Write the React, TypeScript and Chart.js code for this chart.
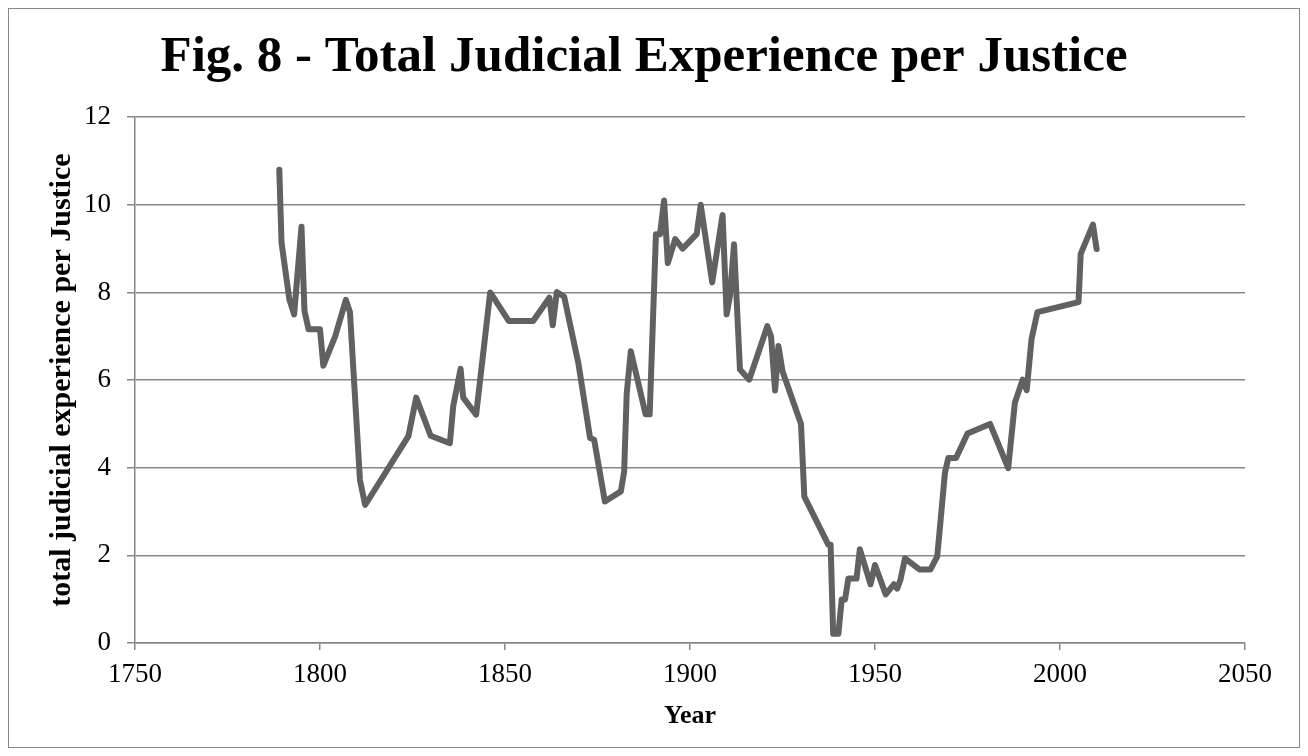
import React, { useEffect, useRef } from "react";
import { Chart, registerables } from "chart.js";

Chart.register(...registerables);

const years: number[] = [
  1789.0, 1789.6, 1791.7, 1793.0, 1795.0, 1795.8, 1796.9, 1800.0, 1800.9, 1804.1,
  1807.0, 1808.1, 1810.8, 1812.2, 1823.9, 1826.0, 1829.9, 1835.1, 1836.0, 1838.0,
  1838.7, 1842.2, 1846.0, 1851.0, 1857.6, 1862.0, 1862.9, 1864.0, 1866.0, 1869.8,
  1873.0, 1874.1, 1877.0, 1881.3, 1882.2, 1882.9, 1884.0, 1888.0, 1889.1, 1890.8,
  1891.9, 1893.0, 1894.0, 1896.0, 1898.0, 1901.8, 1902.9, 1906.0, 1908.8, 1909.9,
  1910.8, 1911.9, 1913.5, 1916.0, 1920.9, 1921.9, 1923.0, 1923.9, 1925.0, 1930.0,
  1930.9, 1937.4, 1938.0, 1938.7, 1940.1, 1941.0, 1941.9, 1942.8, 1945.0, 1945.9,
  1948.8, 1950.0, 1952.9, 1955.1, 1956.0, 1956.9, 1958.1, 1962.0, 1965.0, 1966.8,
  1967.4, 1968.9, 1969.8, 1971.9, 1975.0, 1981.1, 1986.0, 1987.8, 1989.9, 1991.0,
  1992.3, 1993.9, 2005.0, 2005.6, 2008.9, 2009.9,
];

const experience: number[] = [
  10.8, 9.14, 7.85, 7.5, 9.5, 7.58, 7.16, 7.16, 6.33, 7.0,
  7.83, 7.55, 3.72, 3.15, 4.72, 5.6, 4.73, 4.56, 5.4, 6.26,
  5.6, 5.21, 8.0, 7.35, 7.35, 7.88, 7.25, 8.01, 7.9, 6.4,
  4.68, 4.64, 3.23, 3.46, 3.91, 5.7, 6.66, 5.22, 5.22, 9.33,
  9.33, 10.1, 8.67, 9.22, 9.0, 9.33, 10.0, 8.23, 9.77, 7.5,
  7.92, 9.1, 6.24, 6.01, 7.23, 7.0, 5.76, 6.78, 6.2, 5.0,
  3.34, 2.24, 2.24, 0.21, 0.21, 0.99, 0.99, 1.47, 1.47, 2.14,
  1.34, 1.78, 1.11, 1.34, 1.24, 1.45, 1.93, 1.68, 1.68, 1.97,
  2.5, 3.88, 4.22, 4.22, 4.78, 5.0, 3.99, 5.48, 6.01, 5.77,
  6.93, 7.55, 7.78, 8.88, 9.55, 8.99,
];

const titleText = "Fig. 8 - Total Judicial Experience per Justice";
const xTitle = "Year";
const yTitle = "total judicial experience per Justice";
const xMin = 1750;
const xMax = 2050;
const xStep = 50;
const yMin = 0;
const yMax = 12;
const yStep = 2;

const FONT = "'Liberation Serif', serif";

export default function App() {
  const ref = useRef<HTMLCanvasElement | null>(null);

  useEffect(() => {
    if (!ref.current) return;
    const points = years.map((x, i) => ({ x, y: experience[i] }));
    const chart = new Chart(ref.current, {
      type: "line",
      data: {
        datasets: [
          {
            data: points,
            borderColor: "#616161",
            borderWidth: 6,
            pointRadius: 0,
            borderJoinStyle: "round",
            borderCapStyle: "round",
            tension: 0,
            fill: false,
          },
        ],
      },
      options: {
        responsive: false,
        animation: false,
        layout: { padding: { left: 0, right: 20, top: 0, bottom: 0 } },
        plugins: {
          legend: { display: false },
          tooltip: { enabled: false },
          title: {
            display: true,
            text: titleText,
            color: "#000",
            font: { family: FONT, size: 51, weight: "bold", lineHeight: 1.2 },
            padding: { top: 18, bottom: 29 },
          },
        },
        scales: {
          x: {
            type: "linear",
            min: xMin,
            max: xMax,
            ticks: {
              stepSize: xStep,
              color: "#000",
              font: { family: FONT, size: 27 },
              padding: 9,
              maxRotation: 0,
              callback: (v: any) => String(v),
            },
            grid: {
              drawOnChartArea: false,
              drawTicks: true,
              tickLength: 7,
              color: "#878787",
              lineWidth: 1.5,
            },
            border: { color: "#878787", width: 1.5 },
            title: {
              display: true,
              text: xTitle,
              color: "#000",
              font: { family: FONT, size: 26, weight: "bold" },
              padding: { top: 8, bottom: 15 },
            },
            afterFit: (scale: any) => {
              scale.height = 104;
            },
          },
          y: {
            min: yMin,
            max: yMax,
            ticks: {
              stepSize: yStep,
              color: "#000",
              font: { family: FONT, size: 27 },
              padding: 16,
              callback: (v: any) => String(v),
            },
            grid: {
              color: "#878787",
              lineWidth: 1.5,
              tickLength: 8,
            },
            border: { color: "#878787", width: 1.5 },
            title: {
              display: true,
              text: yTitle,
              color: "#000",
              font: { family: FONT, size: 30, weight: "bold" },
              padding: { top: 35, bottom: 0 },
            },
            afterFit: (scale: any) => {
              scale.width = 126;
            },
          },
          yRight: {
            position: "right",
            min: yMin,
            max: yMax,
            display: true,
            ticks: { display: false },
            grid: { display: false, drawTicks: false },
            border: { display: false },
            afterFit: (scale: any) => {
              scale.width = 34;
            },
          },
        },
      },
    });
    return () => chart.destroy();
  }, []);

  return (
    <div
      style={{
        width: 1290,
        height: 738,
        border: "1px solid #878787",
        background: "#fff",
      }}
    >
      <canvas ref={ref} width={1290} height={738} style={{ display: "block" }} />
    </div>
  );
}
